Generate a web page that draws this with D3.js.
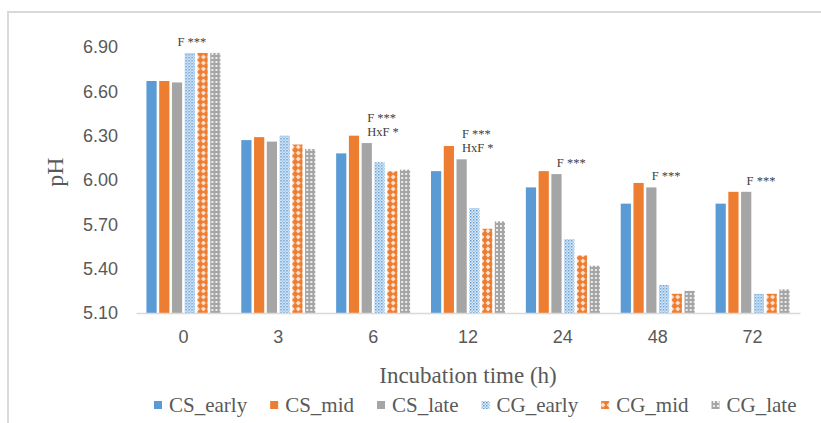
<!DOCTYPE html>
<html>
<head>
<meta charset="utf-8">
<script src="https://cdn.jsdelivr.net/npm/d3@7"></script>
<style>
body{margin:0;background:#fff}
</style>
</head>
<body>
<svg></svg>
<script>
var times=["0","3","6","12","24","48","72"]
var series=["CS_early","CS_mid","CS_late","CG_early","CG_mid","CG_late"]
var CS_early=[6.67,6.27,6.18,6.06,5.95,5.84,5.84]
var CS_mid=[6.67,6.29,6.30,6.23,6.06,5.98,5.92]
var CS_late=[6.66,6.26,6.25,6.14,6.04,5.95,5.92]
var CG_early=[6.86,6.30,6.12,5.81,5.60,5.29,5.23]
var CG_mid=[6.86,6.24,6.06,5.67,5.49,5.23,5.23]
var CG_late=[6.86,6.21,6.07,5.72,5.42,5.25,5.26]
var yTicks=[5.10,5.40,5.70,6.00,6.30,6.60,6.90]
var notes=[
  {t:"0",lines:["F ***"]},
  {t:"6",lines:["F ***","HxF *"]},
  {t:"12",lines:["F ***","HxF *"]},
  {t:"24",lines:["F ***"]},
  {t:"48",lines:["F ***"]},
  {t:"72",lines:["F ***"]}
]

var screen={width:821,height:423}
var values=[CS_early,CS_mid,CS_late,CG_early,CG_mid,CG_late]
var fills=["#5b9bd5","#ed7d31","#a5a5a5","url(#pEarly)","url(#pMid)","url(#pLate)"]

var svg=d3.select("svg")
  .attr("width",screen.width)
  .attr("height",screen.height)

// patterns for the CG series
var defs=svg.append("defs")
var p1=defs.append("pattern").attr("id","pEarly").attr("patternUnits","userSpaceOnUse")
  .attr("width",3).attr("height",3)
p1.append("rect").attr("width",3).attr("height",3).attr("fill","#e3edf8")
p1.append("rect").attr("width",1.5).attr("height",1.5).attr("fill","#5b9bd5")
p1.append("rect").attr("x",1.5).attr("y",1.5).attr("width",1.5).attr("height",1.5).attr("fill","#9cc3ea")
var p2=defs.append("pattern").attr("id","pMid").attr("patternUnits","userSpaceOnUse")
  .attr("width",6).attr("height",6)
p2.append("rect").attr("width",6).attr("height",6).attr("fill","#ed7d31")
p2.append("path").attr("d","M3,0.6L5.4,3L3,5.4L0.6,3Z").attr("fill","#fce4d3")
var p3=defs.append("pattern").attr("id","pLate").attr("patternUnits","userSpaceOnUse")
  .attr("width",4).attr("height",4)
p3.append("rect").attr("width",4).attr("height",4).attr("fill","#a5a5a5")
p3.append("rect").attr("x",1).attr("y",1).attr("width",2).attr("height",2).attr("fill","#ececec")

// frame
svg.append("path").attr("d","M8,423V12H821").attr("fill","none")
  .attr("stroke","#d9d9d9").attr("stroke-width",2)

var xScale=d3.scaleBand().domain(times).range([136,800]).paddingInner(0.22).paddingOuter(0.11)
var xSub=d3.scaleBand().domain(series).range([0,xScale.bandwidth()]).paddingInner(0.2)
var yScale=d3.scaleLinear().domain([5.1,6.9]).range([313,47])

var groups=svg.append("g").selectAll("g")
  .data(times)
  .enter()
  .append("g")
  .attr("transform",function(d){return "translate("+xScale(d)+",0)"})

groups.selectAll("rect")
  .data(function(d,i){return series.map(function(s,j){return {s:s,j:j,v:values[j][i]}})})
  .enter()
  .append("rect")
  .attr("x",function(d){return xSub(d.s)})
  .attr("width",xSub.bandwidth())
  .attr("y",function(d){return yScale(d.v)})
  .attr("height",function(d){return yScale(5.1)-yScale(d.v)})
  .attr("fill",function(d){return fills[d.j]})

// x axis
var xAxis=svg.append("g").attr("transform","translate(0,313)")
  .call(d3.axisBottom(xScale).tickSize(0).tickPadding(17))
xAxis.select(".domain").attr("stroke","#d9d9d9").attr("stroke-width",1.5)
xAxis.selectAll("text").attr("font-family","Liberation Sans").attr("font-size",18).attr("fill","#595959")

// y axis
var yAxis=svg.append("g").attr("transform","translate(136,0)")
  .call(d3.axisLeft(yScale).tickValues(yTicks).tickFormat(d3.format(".2f")).tickSize(0).tickPadding(18))
yAxis.select(".domain").remove()
yAxis.selectAll("text").attr("font-family","Liberation Sans").attr("font-size",18).attr("fill","#595959")

// annotations, above the tallest of the late/CG bars
var annot=svg.append("g")
notes.forEach(function(n){
  var i=times.indexOf(n.t)
  var top=d3.min([2,3,4,5],function(j){return yScale(values[j][i])})
  var x=xScale(n.t)+xScale.bandwidth()/2-6
  n.lines.forEach(function(line,k){
    annot.append("text")
      .attr("x",x)
      .attr("y",top-7-(n.lines.length-1-k)*14)
      .attr("font-family","Liberation Serif")
      .attr("font-size",12.5)
      .attr("fill","#404040")
      .text(line)
  })
})

// axis titles
svg.append("text").attr("x",468).attr("y",383).attr("text-anchor","middle")
  .attr("font-family","Liberation Serif").attr("font-size",23).attr("fill","#595959")
  .text("Incubation time (h)")
svg.append("text").attr("transform","translate(63,172) rotate(-90)").attr("text-anchor","middle")
  .attr("font-family","Liberation Serif").attr("font-size",24).attr("fill","#595959")
  .text("pH")

// legend, laid out from the text widths
var leg=svg.append("g")
var lx=154
series.forEach(function(s,i){
  leg.append("rect").attr("x",lx).attr("y",401).attr("width",8).attr("height",8)
    .attr("fill",fills[i])
  var t=leg.append("text").attr("x",lx+15).attr("y",412)
    .attr("font-family","Liberation Serif").attr("font-size",21).attr("fill","#595959")
    .text(s)
  lx=lx+15+t.node().getComputedTextLength()+23
})
</script>
</body>
</html>
